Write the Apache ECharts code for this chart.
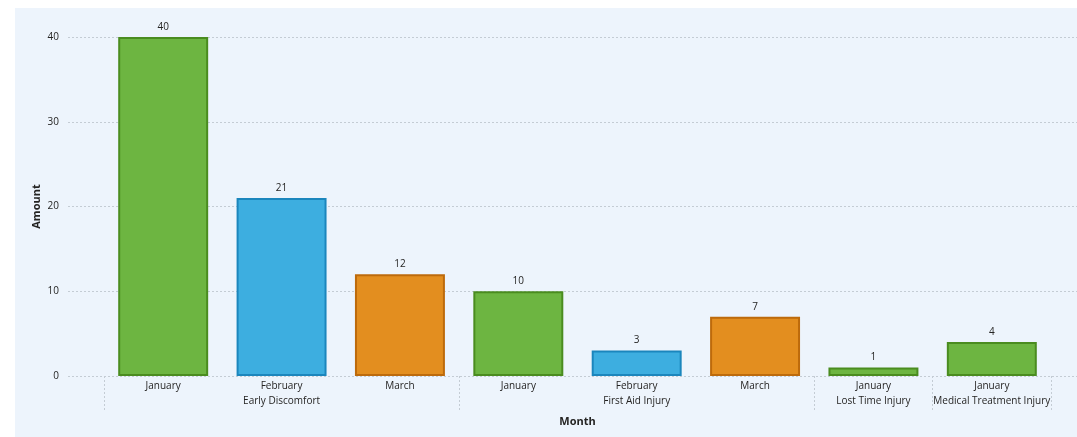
<!DOCTYPE html>
<html>
<head>
<meta charset="utf-8">
<script src="https://cdn.jsdelivr.net/npm/echarts@6/dist/echarts.min.js"></script>
<style>
  html, body { margin: 0; padding: 0; background: #ffffff; }
  #panel { position: absolute; left: 15px; top: 8px; right: 0; bottom: 0; background: #edf4fc; }
  #chart { position: absolute; left: 0; top: 0; width: 1077px; height: 437px; }
</style>
</head>
<body>
<div id="panel"></div>
<div id="chart"></div>
<script>
// Incident counts by month, grouped by incident type
const months = ['January', 'February', 'March', 'January', 'February', 'March', 'January', 'January'];
const groups = ['', 'Early Discomfort', '', '', 'First Aid Injury', '', 'Lost Time Injury', 'Medical Treatment Injury'];
const groupStarts = [0, 3, 6, 7];
const amounts = [40, 21, 12, 10, 3, 7, 1, 4];
const yTicks = [0, 10, 20, 30, 40];

const monthColors = {
  January:  { fill: '#6db541', border: '#4a8c1f' },
  February: { fill: '#3daee0', border: '#1b86bd' },
  March:    { fill: '#e38e1f', border: '#bd6a0b' }
};

const font = '"Open Sans", "Noto Sans", sans-serif';
const textColor = '#252423';
const dotted = { color: '#c4ccd4', type: [2, 2], width: 1 };

const chart = echarts.init(document.getElementById('chart'), null, { renderer: 'canvas' });

chart.setOption({
  backgroundColor: 'transparent',
  animation: false,
  grid: [
    { left: 104, right: 26, top: 37, bottom: 61 },
    { left: 68, right: 0, top: 37, bottom: 61 }
  ],
  xAxis: [
    {
      type: 'category', gridIndex: 0, data: months, position: 'bottom',
      axisLine: { show: false },
      axisTick: { show: false },
      axisLabel: { color: textColor, fontFamily: font, fontSize: 10, margin: 5, interval: 0 }
    },
    {
      type: 'category', gridIndex: 0, data: groups, position: 'bottom',
      axisLine: { show: false },
      axisTick: {
        show: true, length: 34, inside: false,
        interval: (i) => groupStarts.includes(i),
        lineStyle: dotted
      },
      axisLabel: { color: textColor, fontFamily: font, fontSize: 10, margin: 20, interval: 0 },
      name: 'Month', nameLocation: 'middle', nameGap: 40,
      nameTextStyle: { color: textColor, fontFamily: font, fontSize: 11, fontWeight: 'bold' }
    },
    { type: 'value', gridIndex: 1, show: false, min: 0, max: 1 }
  ],
  yAxis: [
    {
      // value axis of the bars; only its title is drawn
      type: 'value', gridIndex: 0, min: yTicks[0], max: yTicks[yTicks.length - 1], interval: 10,
      axisLine: { show: false }, axisTick: { show: false },
      axisLabel: { show: false }, splitLine: { show: false },
      name: 'Amount', nameLocation: 'middle', nameGap: 62, nameRotate: 90,
      nameTextStyle: { color: textColor, fontFamily: font, fontSize: 11, fontWeight: 'bold' }
    },
    {
      type: 'value', gridIndex: 1, min: yTicks[0], max: yTicks[yTicks.length - 1], interval: 10,
      axisLine: { show: false }, axisTick: { show: false },
      axisLabel: { color: textColor, fontFamily: font, fontSize: 10, margin: 9 },
      splitLine: { show: true, lineStyle: dotted }
    }
  ],
  series: [
    {
      type: 'bar', xAxisIndex: 0, yAxisIndex: 0,
      barCategoryGap: '24%',
      data: amounts.map((v, i) => ({
        value: v,
        itemStyle: {
          color: monthColors[months[i]].fill,
          borderColor: monthColors[months[i]].border,
          borderWidth: 2
        }
      })),
      label: {
        show: true, position: 'top', distance: 5,
        color: textColor, fontFamily: font, fontSize: 10
      }
    }
  ]
});
</script>
</body>
</html>
